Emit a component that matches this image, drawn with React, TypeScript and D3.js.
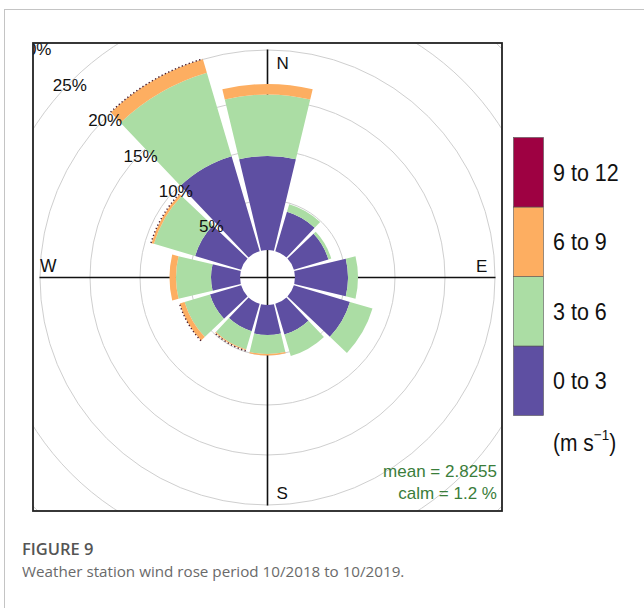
import React from 'react';
import * as d3 from 'd3';

// Wind directions (degrees clockwise from north), one 30° sector each
const directions = [0, 30, 60, 90, 120, 150, 180, 210, 240, 270, 300, 330];

// Frequency (%) per speed band and direction
const speed0to3 = [9.4, 4.1, 3.6, 5.3, 5.85, 3.2, 3.0, 2.85, 3.25, 2.9, 4.8, 9.9];
const speed3to6 = [6.15, 0.8, 0.3, 1.0, 2.35, 2.25, 1.9, 1.9, 2.65, 3.5, 4.3, 8.7];
const speed6to9 = [1.05, 0, 0, 0, 0, 0, 0.15, 0.1, 0.5, 0.65, 0.25, 1.4];
const speed9to12 = [0, 0, 0, 0, 0, 0, 0, 0.1, 0.05, 0, 0.1, 0.1];

const bandLabels = ['0 to 3', '3 to 6', '6 to 9', '9 to 12'];
const bandColors = ['#5E4FA2', '#ABDDA4', '#FDAE61', '#9E0142'];

const ringTicks = [5, 10, 15, 20, 25, 30];
const compassLabels = ['N', 'E', 'S', 'W'];
const meanSpeed = '2.8255';
const calmPercent = '1.2';

const figureLabel = 'FIGURE 9';
const figureCaption = 'Weather station wind rose period 10/2018 to 10/2019.';

const W = 644;
const H = 608;
const box = { x: 33, y: 43, w: 469, h: 468 };
const cx = box.x + box.w / 2;
const cy = box.y + box.h / 2 + 0.5;
const calmRadius = 27.5;
const axisLen = 228;
const halfWidth = 13.5; // degrees, leaves a 3° gap between sectors

const chartFont = '"Liberation Sans", Arial, sans-serif';
const captionFont = '"Open Sans", "Noto Sans", sans-serif';

export default function App() {
  const r = d3.scaleLinear().domain([0, 25]).range([calmRadius, calmRadius + 250]);
  const toRad = (deg: number) => (deg * Math.PI) / 180;
  const arc = d3.arc<any>();

  const bands = [speed0to3, speed3to6, speed6to9, speed9to12];

  // stacked segments for each direction
  const segments: { key: string; d: string; color: string; dotted: boolean }[] = [];
  directions.forEach((dir, i) => {
    let cum = 0;
    bands.forEach((band, b) => {
      const v = band[i];
      if (v <= 0) return;
      const start = toRad(dir - halfWidth);
      const end = toRad(dir + halfWidth);
      if (b === 3) {
        // the top band is only a sliver: drawn as a dotted rim
        const p = d3.path();
        const rr = r(cum + v / 2);
        p.arc(0, 0, rr, start - Math.PI / 2, end - Math.PI / 2);
        segments.push({ key: `${i}-${b}`, d: p.toString(), color: '#4a1a2a', dotted: true });
      } else {
        const d = arc({
          innerRadius: r(cum),
          outerRadius: r(cum + v),
          startAngle: start,
          endAngle: end,
        }) as string;
        segments.push({ key: `${i}-${b}`, d, color: bandColors[b], dotted: false });
      }
      cum += v;
    });
  });

  const diag = Math.SQRT1_2;

  const legendX = 513.5;
  const legendTop = 137.5;
  const legendH = 69.5;
  const legendW = 30;

  return (
    <svg
      width={W}
      height={H}
      style={{ position: 'absolute', left: 0, top: 0, background: '#fff' }}
      fontFamily={chartFont}
    >
      <defs>
        <clipPath id="plotClip">
          <rect x={box.x} y={box.y} width={box.w} height={box.h} />
        </clipPath>
      </defs>

      {/* page frame */}
      <line x1={4} y1={9.5} x2={W} y2={9.5} stroke="#c4c4c4" strokeWidth={1} />
      <line x1={4.5} y1={9} x2={4.5} y2={H} stroke="#c4c4c4" strokeWidth={1} />

      <g clipPath="url(#plotClip)">
        <rect x={box.x} y={box.y} width={box.w} height={box.h} fill="#fff" />
        <g transform={`translate(${cx},${cy})`}>
          {ringTicks.map((t) => (
            <circle key={t} r={r(t)} fill="none" stroke="#cfcfcf" strokeWidth={1} />
          ))}
          {/* compass axes */}
          <line x1={0} y1={-axisLen} x2={0} y2={axisLen} stroke="#111" strokeWidth={1.6} />
          <line x1={-axisLen} y1={0} x2={axisLen} y2={0} stroke="#111" strokeWidth={1.6} />
          {segments.map((s) =>
            s.dotted ? (
              <path
                key={s.key}
                d={s.d}
                fill="none"
                stroke={s.color}
                strokeWidth={1.4}
                strokeDasharray="1.3 2.4"
              />
            ) : (
              <path key={s.key} d={s.d} fill={s.color} />
            )
          )}
          {ringTicks.map((t) => (
            <text
              key={t}
              x={-r(t) * diag - 1.5}
              y={-r(t) * diag + 4}
              textAnchor="middle"
              dominantBaseline="central"
              fontSize={17}
              fill="#111"
            >
              {`${t}%`}
            </text>
          ))}
        </g>
        {/* compass letters */}
        <text x={cx + 9} y={box.y + 26} fontSize={17} fill="#111">{compassLabels[0]}</text>
        <text x={box.x + box.w - 26} y={cy - 6} fontSize={17} fill="#111">{compassLabels[1]}</text>
        <text x={cx + 9} y={box.y + box.h - 12} fontSize={17} fill="#111">{compassLabels[2]}</text>
        <text x={box.x + 7} y={cy - 6} fontSize={17.5} fill="#111">{compassLabels[3]}</text>

        <text x={box.x + box.w - 5} y={box.y + box.h - 34} textAnchor="end" fontSize={17} fill="#3a7d3a">
          {`mean = ${meanSpeed}`}
        </text>
        <text x={box.x + box.w - 5} y={box.y + box.h - 12} textAnchor="end" fontSize={17} fill="#3a7d3a">
          {`calm = ${calmPercent} %`}
        </text>
      </g>
      <rect x={box.x} y={box.y} width={box.w} height={box.h} fill="none" stroke="#222" strokeWidth={1.8} />

      {/* legend, highest band on top */}
      {bandLabels.map((lab, b) => {
        const row = bandLabels.length - 1 - b;
        const y = legendTop + row * legendH;
        return (
          <g key={lab}>
            <rect x={legendX} y={y} width={legendW} height={legendH} fill={bandColors[b]} stroke="#555" strokeWidth={0.6} />
            <text
              transform={`translate(553,${y + legendH / 2}) scale(1,1.15)`}
              dominantBaseline="central"
              fontSize={21.5}
              fill="#111"
            >
              {lab}
            </text>
          </g>
        );
      })}
      <text transform="translate(553,443) scale(1,1.12)" dominantBaseline="central" fontSize={21} fill="#111">
        (m s<tspan dy={-7} fontSize={13.5}>−1</tspan><tspan dy={7}>)</tspan>
      </text>

      {/* caption */}
      <text x={22} y={555} fontFamily={captionFont} fontWeight={600} fontSize={16.5} fill="#555">
        {figureLabel}
      </text>
      <text x={22} y={577} fontFamily={captionFont} fontSize={15.2} fill="#6a6a6a">
        {figureCaption}
      </text>
    </svg>
  );
}
